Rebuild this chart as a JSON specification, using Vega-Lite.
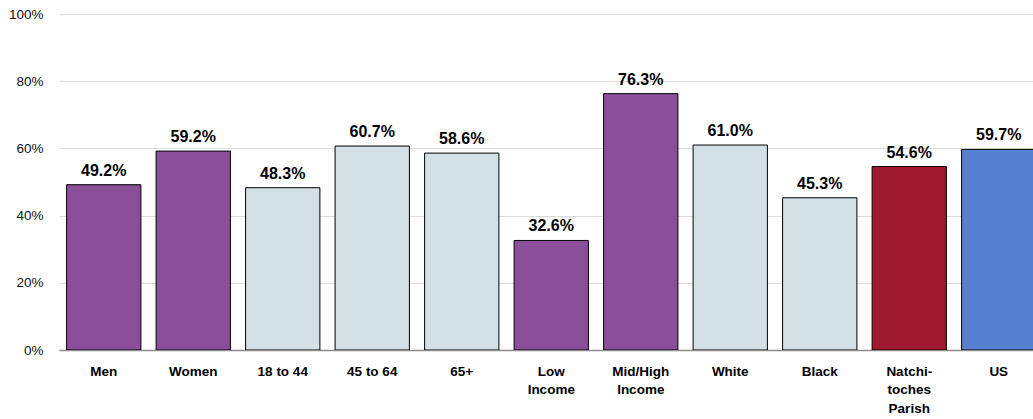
{
  "$schema": "https://vega.github.io/schema/vega-lite/v6.json",
  "autosize": "none",
  "width": 974,
  "height": 336,
  "padding": {"left": 59, "top": 14, "right": 0, "bottom": 69},
  "background": "white",
  "config": {"view": {"stroke": null}, "font": "Liberation Sans"},
  "data": {"values": [
    {"category": "Men", "group": "Gender", "rate": 0.492},
    {"category": "Women", "group": "Gender", "rate": 0.592},
    {"category": "18 to 44", "group": "Age", "rate": 0.483},
    {"category": "45 to 64", "group": "Age", "rate": 0.607},
    {"category": "65+", "group": "Age", "rate": 0.586},
    {"category": "Low Income", "group": "Income", "rate": 0.326},
    {"category": "Mid/High Income", "group": "Income", "rate": 0.763},
    {"category": "White", "group": "Race", "rate": 0.610},
    {"category": "Black", "group": "Race", "rate": 0.453},
    {"category": "Natchitoches Parish", "group": "Parish", "rate": 0.546},
    {"category": "US", "group": "US", "rate": 0.597}
  ]},
  "encoding": {
    "x": {
      "field": "category", "type": "nominal", "sort": null,
      "scale": {"paddingInner": 0.17, "paddingOuter": 0.085, "range": [0, 984.5]},
      "axis": {
        "title": null, "labelAngle": 0, "ticks": false,
        "domainColor": "#8c8c8c", "domainWidth": 1.5,
        "labelFont": "Liberation Sans", "labelFontWeight": "bold", "labelFontSize": 13.5,
        "labelColor": "#000000", "labelBaseline": "top", "labelPadding": 14, "labelLineHeight": 18.5,
        "labelExpr": "datum.value == 'Natchitoches Parish' ? ['Natchi-', 'toches', 'Parish'] : (indexof(datum.value, 'Income') > 0 ? split(datum.value, ' ') : datum.value)"
      }
    },
    "y": {
      "field": "rate", "type": "quantitative",
      "scale": {"domain": [0, 1], "nice": false},
      "axis": {
        "title": null, "format": ".0%", "values": [0, 0.2, 0.4, 0.6, 0.8, 1],
        "domain": false, "ticks": false, "grid": true, "gridColor": "#dcdcdc", "gridWidth": 1,
        "labelFont": "Liberation Sans", "labelFontSize": 13.5, "labelColor": "#111111", "labelPadding": 16
      }
    }
  },
  "layer": [
    {
      "mark": {"type": "bar", "stroke": "#000000", "strokeWidth": 1, "clip": true},
      "encoding": {
        "color": {
          "field": "group", "type": "nominal", "legend": null,
          "scale": {
            "domain": ["Gender", "Age", "Income", "Race", "Parish", "US"],
            "range": ["#8b4e98", "#d3e0e6", "#8b4e98", "#d3e0e6", "#a01a2f", "#5780d0"]
          }
        }
      }
    },
    {
      "mark": {"type": "text", "baseline": "alphabetic", "dy": -9, "font": "Liberation Sans", "fontWeight": "bold", "fontSize": 16, "color": "#000000"},
      "encoding": {"text": {"field": "rate", "type": "quantitative", "format": ".1%"}}
    }
  ]
}
